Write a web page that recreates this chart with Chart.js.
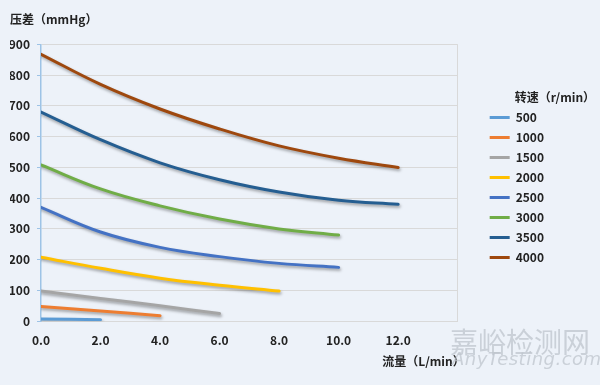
<!DOCTYPE html>
<html>
<head>
<meta charset="utf-8">
<script src="https://cdn.jsdelivr.net/npm/chart.js@4.4.1/dist/chart.umd.min.js"></script>
<style>
  body { margin: 0; background: #edf2f9; }
  #wrap { position: relative; width: 600px; height: 385px; }
  .wm1 { position: absolute; left: 450px; top: 321px; font: 28px "Noto Sans CJK SC"; color: rgba(190,196,204,0.75); }
  .wm2 { position: absolute; left: 452px; top: 348px; font: italic 18px "DejaVu Sans"; color: rgba(190,196,204,0.75); letter-spacing: 0.5px; }
</style>
</head>
<body>
<div id="wrap">
  <canvas id="myChart" width="600" height="385"></canvas>
  <div class="wm1">嘉峪检测网</div>
  <div class="wm2">AnyTesting.com</div>
</div>
<script>
// flow values (L/min) on the x axis
const flow = [0, 2, 4, 6, 8, 10, 12];
const speeds = ['500', '1000', '1500', '2000', '2500', '3000', '3500', '4000'];
const colors = ['#5B9BD5', '#ED7D31', '#A5A5A5', '#FFC000', '#4472C4', '#70AD47', '#255E91', '#9E480E'];

// pressure difference (mmHg) at each flow point
const dp500  = [7, 5];
const dp1000 = [48, 33, 18];
const dp1500 = [98, 74, 50, 25];
const dp2000 = [208, 172, 140, 117, 98];
const dp2500 = [370, 290, 240, 210, 188, 175];
const dp3000 = [508, 430, 375, 332, 300, 280];
const dp3500 = [680, 590, 515, 460, 420, 393, 380];
const dp4000 = [868, 770, 690, 625, 570, 530, 500];
const allSeries = [dp500, dp1000, dp1500, dp2000, dp2500, dp3000, dp3500, dp4000];

const font = 'Noto Sans CJK SC';
const ctx = document.getElementById('myChart').getContext('2d');

// drop shadow under the curves
const shadowPlugin = {
  id: 'shadow',
  beforeDatasetsDraw(chart) {
    const c = chart.ctx;
    c.save();
    c.shadowColor = 'rgba(0,0,0,0.35)';
    c.shadowBlur = 3;
    c.shadowOffsetX = 1;
    c.shadowOffsetY = 2;
  },
  afterDatasetsDraw(chart) { chart.ctx.restore(); }
};

// legend title and x axis title drawn by hand so they sit where the reference has them
const extraText = {
  id: 'extraText',
  afterDraw(chart) {
    const lg = chart.legend;
    const c = chart.ctx;
    c.save();
    c.font = 'bold 12px "' + font + '"';
    c.fillStyle = '#222';
    c.textBaseline = 'middle';
    c.fillText('转速（r/min）', lg.left + 33, lg.legendHitBoxes[0].top - 14);
    c.textAlign = 'right';
    c.fillText('流量（L/min）', chart.chartArea.right + 7, 361);
    c.restore();
  }
};

const myChart = new Chart(ctx, {
  type: 'line',
  data: {
    datasets: allSeries.map((arr, i) => ({
      label: speeds[i],
      data: arr.map((v, j) => ({ x: flow[j], y: v })),
      borderColor: colors[i],
      backgroundColor: colors[i],
      borderWidth: 3,
      borderCapStyle: 'round',
      pointRadius: 0,
      tension: 0.4,
      fill: false
    }))
  },
  options: {
    responsive: false,
    animation: false,
    layout: { padding: { left: 10, right: 46, bottom: 0 } },
    plugins: {
      title: {
        display: true,
        text: '压差（mmHg）',
        align: 'start',
        color: '#222',
        font: { family: font, size: 12, weight: 'bold' },
        padding: { top: 12, bottom: 18 }
      },
      legend: {
        position: 'right',
        align: 'start',
        title: { display: true, text: ' ', color: 'transparent', font: { size: 12 }, padding: { top: 82, bottom: 7 } },
        labels: {
          boxWidth: 20,
          boxHeight: 3,
          padding: 8,
          color: '#222',
          font: { family: font, size: 12, weight: 'bold' },
          generateLabels: chart => Chart.defaults.plugins.legend.labels.generateLabels(chart)
            .map(l => Object.assign(l, { lineWidth: 0, fillStyle: l.strokeStyle }))
        }
      },
      tooltip: { enabled: false }
    },
    scales: {
      x: {
        type: 'linear',
        min: 0,
        max: 14,
        ticks: {
          stepSize: 1,
          autoSkip: false,
          maxRotation: 0,
          padding: 6,
          color: '#222',
          font: { family: font, size: 12, weight: 'bold' },
          callback: v => (v % 2 === 0 && v < 14) ? v.toFixed(1) : ''
        },
        grid: {
          color: c => c.tick && c.tick.value === 14 ? '#d9d9d9' : 'transparent',
          tickColor: 'transparent',
          tickLength: 6
        },
        border: { color: '#d9d9d9' },
        title: {
          display: true,
          text: '流量（L/min）',
          align: 'end',
          color: 'transparent',
          font: { family: font, size: 12, weight: 'bold' },
          padding: { top: 2, bottom: 15 }
        }
      },
      y: {
        min: 0,
        max: 900,
        afterFit: s => { s.width = 31; },
        ticks: {
          stepSize: 50,
          padding: 7,
          color: '#222',
          font: { family: font, size: 12, weight: 'bold' },
          callback: v => v % 100 === 0 ? v : ''
        },
        grid: {
          color: c => c.tick && c.tick.value % 100 === 0 && c.tick.value > 0 ? '#d9d9d9' : 'transparent',
          tickColor: '#9dc3e6',
          tickLength: 4
        },
        border: { color: '#9dc3e6', width: 1.5 }
      },
      // empty axis that keeps a gap between the plot and the legend
      gap: {
        type: 'linear',
        position: 'right',
        display: true,
        ticks: { display: false },
        grid: { display: false },
        border: { display: false },
        afterFit: s => { s.width = 24; }
      }
    }
  },
  plugins: [shadowPlugin, extraText]
});
console.log('Canvas loaded');
</script>
</body>
</html>
